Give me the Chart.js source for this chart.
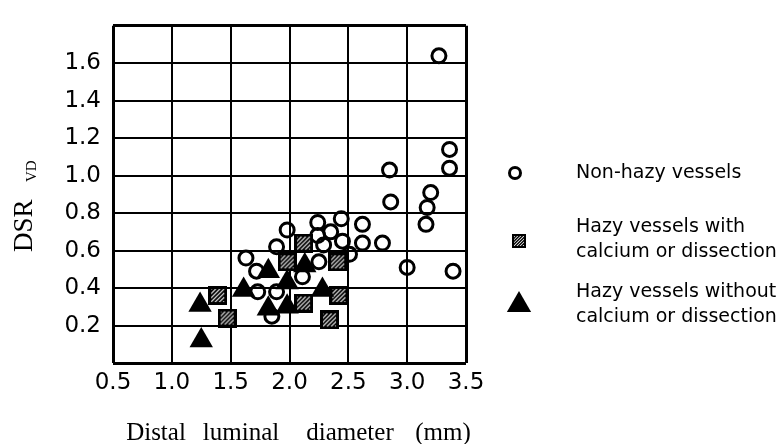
<!DOCTYPE html>
<html>
<head>
<meta charset="utf-8">
<script src="https://cdn.jsdelivr.net/npm/chart.js@4/dist/chart.umd.min.js"></script>
<style>
  body { margin: 0; background: #fff; }
  #wrap { width: 781px; height: 444px; }
</style>
</head>
<body>
<div id="wrap"><canvas id="dsrchart" width="781" height="444"></canvas></div>
<script>
// values
const nonHazyX = [3.27, 3.36, 3.36, 2.85, 3.20, 2.86, 3.17, 3.16, 2.44, 2.24, 2.62, 1.98, 2.35, 2.24, 2.45,
  2.62, 2.79, 2.29, 1.89, 2.51, 1.63, 2.25, 1.72, 3.00, 3.39, 2.11, 1.73, 1.89, 1.85];
const nonHazyY = [1.64, 1.14, 1.04, 1.03, 0.91, 0.86, 0.83, 0.74, 0.77, 0.75, 0.74, 0.71, 0.70, 0.68, 0.65,
  0.64, 0.64, 0.63, 0.62, 0.58, 0.56, 0.54, 0.49, 0.51, 0.49, 0.46, 0.38, 0.38, 0.25];
const calcX = [2.12, 1.98, 2.41, 1.39, 2.42, 2.12, 1.47, 2.34];
const calcY = [0.64, 0.54, 0.54, 0.36, 0.36, 0.32, 0.24, 0.23];
const noCalcX = [1.24, 1.61, 1.82, 1.98, 2.13, 2.28, 1.82, 1.98, 1.25];
const noCalcY = [0.31, 0.39, 0.49, 0.43, 0.52, 0.39, 0.29, 0.30, 0.12];
const seriesNames = [
  ["Non-hazy vessels"],
  ["Hazy vessels with", "calcium or dissection"],
  ["Hazy vessels without", "calcium or dissection"],
];
const yTicksShown = [0.2, 0.4, 0.6, 0.8, 1.0, 1.2, 1.4, 1.6];
const xTitleWords = ["Distal", "luminal", "diameter", "(mm)"];

function hatchSquare(size) {
  const c = document.createElement("canvas");
  c.width = c.height = size;
  const g = c.getContext("2d");
  g.fillStyle = "#000";
  g.fillRect(0, 0, size, size);
  const b = Math.max(2, Math.round(size * 0.16));
  g.fillStyle = "#fff";
  g.fillRect(b, b, size - 2 * b, size - 2 * b);
  g.save();
  g.beginPath();
  g.rect(b, b, size - 2 * b, size - 2 * b);
  g.clip();
  g.strokeStyle = "#000";
  g.lineWidth = size * 0.1;
  for (let k = -size; k < 2 * size; k += size * 0.22) {
    g.beginPath();
    g.moveTo(k, size);
    g.lineTo(k + size, 0);
    g.stroke();
  }
  g.restore();
  return c;
}

const toPts = (xs, ys) => xs.map((x, i) => ({ x: x, y: ys[i] }));

const decor = {
  id: "decor",
  afterDraw(chart) {
    const ctx = chart.ctx;
    ctx.save();
    ctx.fillStyle = "#000";
    // y title with subscript
    ctx.translate(32, 252);
    ctx.rotate(-Math.PI / 2);
    ctx.textBaseline = "alphabetic";
    ctx.textAlign = "left";
    ctx.font = '27px "Liberation Serif"';
    ctx.fillText("DSR", 0, 0);
    ctx.font = '15px "Liberation Serif"';
    ctx.fillText("VD", 70, 4);
    ctx.restore();

    // x title, wide word gaps
    ctx.save();
    ctx.fillStyle = "#000";
    ctx.font = '25px "Liberation Serif"';
    ctx.textAlign = "center";
    ctx.textBaseline = "middle";
    const centers = [156, 241, 350, 443];
    xTitleWords.forEach((w, i) => ctx.fillText(w, centers[i], 433));
    ctx.restore();

    // legend
    ctx.save();
    ctx.strokeStyle = "#000";
    ctx.lineWidth = 3;
    ctx.fillStyle = "rgba(0,0,0,0)";
    Chart.helpers.drawPoint(ctx, { pointStyle: "circle", radius: 5.5, borderWidth: 3 }, 515, 173);
    ctx.drawImage(legendSquare, 519 - 7, 241 - 7);
    ctx.fillStyle = "#000";
    Chart.helpers.drawPoint(ctx, { pointStyle: "triangle", radius: 14, borderWidth: 0 }, 519, 305);
    ctx.font = '19px "DejaVu Sans"';
    ctx.textAlign = "left";
    ctx.textBaseline = "middle";
    const rows = [[173], [227, 252], [292, 317]];
    seriesNames.forEach((lines, i) => {
      lines.forEach((t, j) => ctx.fillText(t, 576, rows[i][j]));
    });
    ctx.restore();
  },
};

const legendSquare = hatchSquare(14);

new Chart(document.getElementById("dsrchart"), {
  type: "scatter",
  data: {
    datasets: [
      {
        label: seriesNames[0].join(" "),
        data: toPts(nonHazyX, nonHazyY),
        pointStyle: "circle",
        pointRadius: 7,
        borderWidth: 3,
        borderColor: "#000",
        backgroundColor: "rgba(0,0,0,0)",
        order: 3,
      },
      {
        label: seriesNames[1].join(" "),
        data: toPts(calcX, calcY),
        pointStyle: hatchSquare(19),
        pointRadius: 10,
        order: 2,
      },
      {
        label: seriesNames[2].join(" "),
        data: toPts(noCalcX, noCalcY),
        pointStyle: "triangle",
        pointRadius: 13.5,
        borderWidth: 0,
        borderColor: "#000",
        backgroundColor: "#000",
        order: 1,
      },
    ],
  },
  options: {
    responsive: false,
    devicePixelRatio: 1,
    animation: false,
    events: [],
    layout: { padding: { left: 0, top: 12, right: 315, bottom: 0 } },
    plugins: { legend: { display: false }, tooltip: { enabled: false } },
    scales: {
      x: {
        type: "linear",
        min: 0.5,
        max: 3.5,
        afterFit: (s) => { s.height = 81; },
        border: { display: false },
        grid: {
          color: "#000",
          drawTicks: false,
          lineWidth: (c) => (c.index === 0 || c.index === c.scale.ticks.length - 1 ? 3 : 2),
        },
        ticks: {
          stepSize: 0.5,
          padding: 6,
          color: "#000",
          font: { family: "DejaVu Sans", size: 23 },
          callback: (v) => Number(v).toFixed(1),
        },
      },
      y: {
        type: "linear",
        min: 0,
        max: 1.8,
        afterFit: (s) => { s.width = 113; },
        border: { display: false },
        grid: {
          color: "#000",
          drawTicks: false,
          lineWidth: (c) => (c.index === 0 || c.index === c.scale.ticks.length - 1 ? 3 : 2),
        },
        ticks: {
          stepSize: 0.2,
          padding: 12,
          color: "#000",
          font: { family: "DejaVu Sans", size: 23 },
          callback: (v) => (yTicksShown.some((t) => Math.abs(t - v) < 1e-6) ? Number(v).toFixed(1) : ""),
        },
      },
    },
  },
  plugins: [decor],
});
</script>
</body>
</html>
